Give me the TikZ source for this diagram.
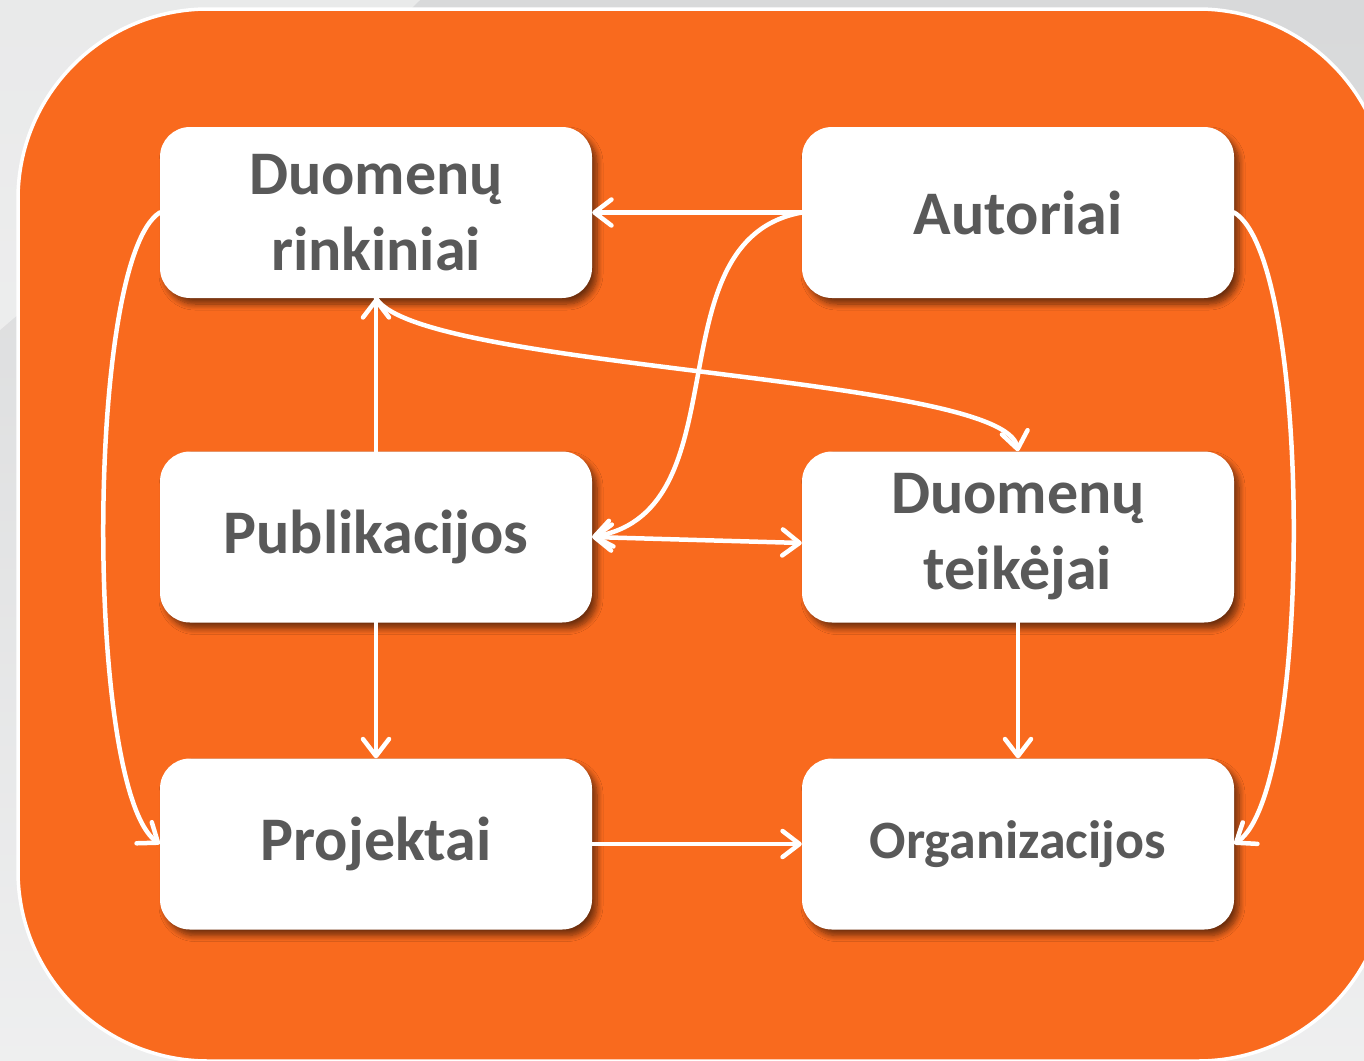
\documentclass[tikz,border=0pt]{standalone}
\usepackage{fontspec}
\setmainfont{Carlito}
\usetikzlibrary{arrows.meta,shadows,shadows.blur,calc}
\definecolor{bgorange}{HTML}{F96A1E}
\definecolor{txtgray}{HTML}{595959}
\definecolor{bggray}{HTML}{E3E4E5}
\tikzset{
  box/.style={draw=none, fill=white, rounded corners=30pt, minimum width=432pt, minimum height=171pt,
    align=center, text=txtgray, font=\bfseries\fontsize{62}{76}\selectfont,
    blur shadow={shadow xshift=5pt, shadow yshift=-6pt, shadow blur steps=8, shadow blur radius=6pt, shadow opacity=55}},
  link/.style={draw=white, line width=4.5pt, line cap=round,
    -{Straight Barb[length=17pt,width=26pt,line width=4.5pt,round]}},
  dlink/.style={link, {Straight Barb[length=17pt,width=26pt,line width=4.5pt,round]}-{Straight Barb[length=17pt,width=26pt,line width=4.5pt,round]}}
}
\begin{document}
\begin{tikzpicture}[x=1pt,y=-1pt]
\useasboundingbox (0,0) rectangle (1364,1060);
\clip (0,0) rectangle (1364,1060);
\shade[top color=bggray!95!black, bottom color=bggray!60!white] (0,0) rectangle (1364,1060);
\fill[white, opacity=0.45] (0,330) .. controls (150,200) and (300,120) .. (420,0) -- (0,0) -- cycle;
\draw[fill=bgorange, draw=white, line width=3.5pt, rounded corners=190pt] (18,9) rectangle (1388,1061);

\node[box] (rink) at (376,212.5) {Duomenų\\rinkiniai};
\node[box] (aut)  at (1018,212.5) {Autoriai};
\node[box] (pub)  at (376,537) {Publikacijos};
\node[box] (teik) at (1018,537) {Duomenų\\teikėjai};
\node[box] (proj) at (376,844) {Projektai};
\node[box, font=\bfseries\fontsize{54}{66}\selectfont] (org) at (1018,844) {Organizacijos};

\draw[link] (aut.west) -- (rink.east);
\draw[link] (aut.west) .. controls (650,240) and (745,510) .. (pub.east);
\draw[link] (pub.north) -- (rink.south);
\draw[link] (rink.south) .. controls (420,370) and (1005,375) .. (teik.north);
\draw[dlink] (pub.east) -- ($(teik.west)+(0,6)$);
\draw[link] (pub.south) -- (proj.north);
\draw[link] (teik.south) -- (org.north);
\draw[link] (proj.east) -- (org.west);
\draw[link] (rink.west) .. controls (85,260) and (85,790) .. (proj.west);
\draw[link] (aut.east) .. controls (1313,260) and (1313,790) .. (org.east);
\end{tikzpicture}
\end{document}
